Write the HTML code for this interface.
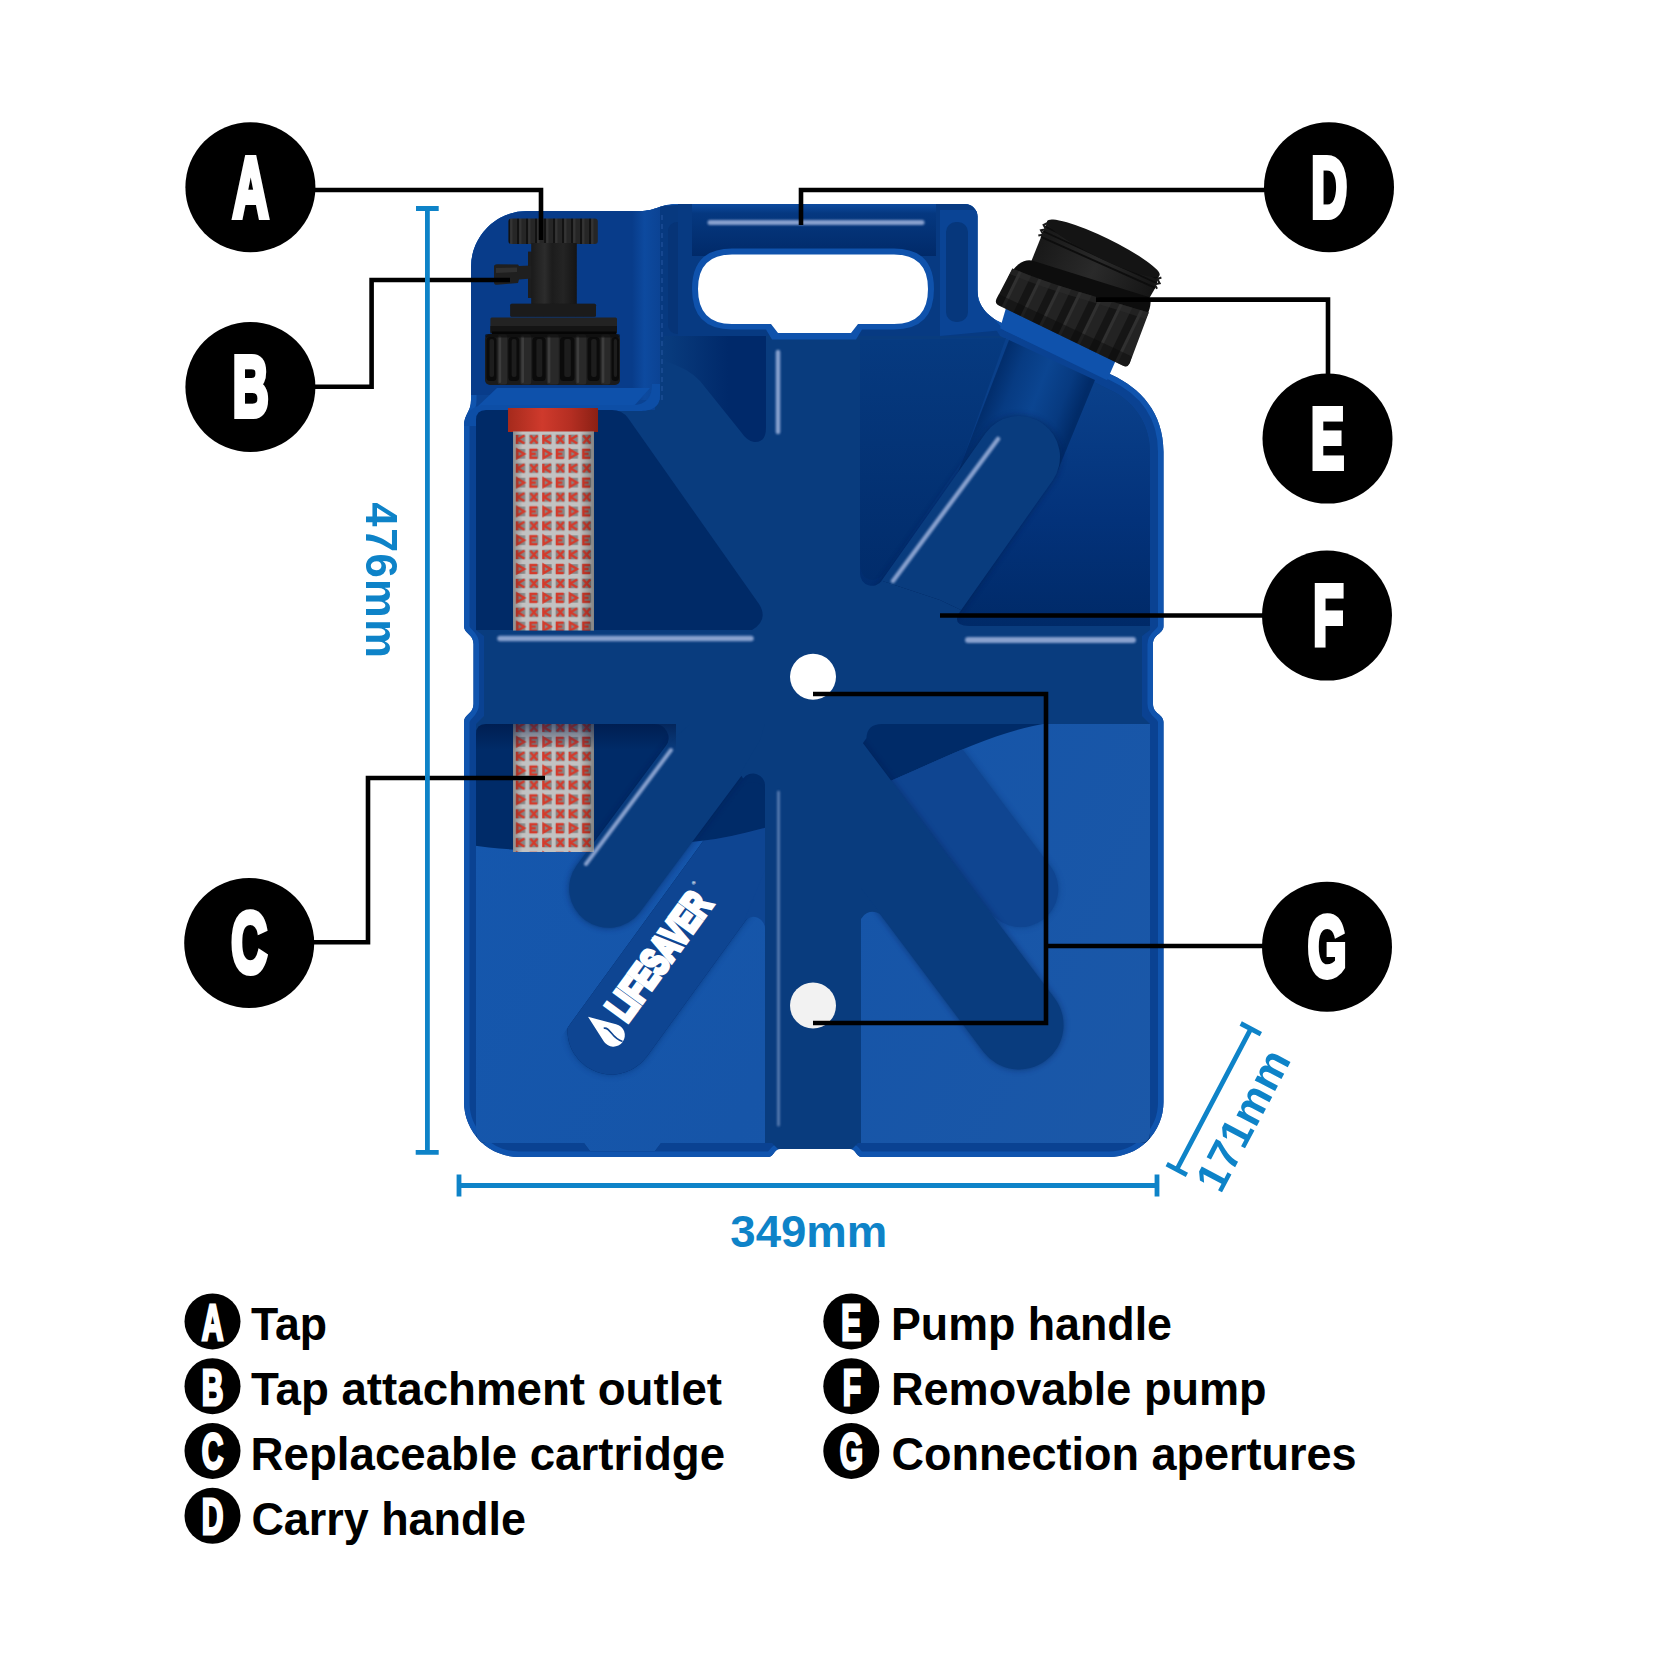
<!DOCTYPE html>
<html lang="en">
<head>
<meta charset="utf-8">
<title>LifeSaver Jerrycan – parts and dimensions</title>
<style>
  html, body { margin: 0; padding: 0; background: #ffffff; }
  body { width: 1667px; height: 1667px; overflow: hidden; font-family: "Liberation Sans", sans-serif; }
  svg { display: block; }
  .lbl { font-family: "Liberation Sans", sans-serif; font-weight: 700; fill: #ffffff; }
  .leg { font-family: "Liberation Sans", sans-serif; font-weight: 700; fill: #000000; font-size: 45.5px; }
  .dim { font-family: "Liberation Sans", sans-serif; font-weight: 700; fill: #0e83c8; font-size: 43.5px; }
  .lead { fill: none; stroke: #000000; stroke-width: 4.6; stroke-linejoin: miter; stroke-linecap: butt; }
  .dimline { fill: none; stroke: #0e83c8; stroke-width: 4.8; stroke-linecap: butt; }
</style>
</head>
<body>
<svg width="1667" height="1667" viewBox="0 0 1667 1667">
<defs>

<linearGradient id="gUM" gradientUnits="userSpaceOnUse" x1="664" y1="0" x2="728" y2="0">
  <stop offset="0" stop-color="#093c7e"/><stop offset="1" stop-color="#00296a"/>
</linearGradient>
<linearGradient id="gURL" gradientUnits="userSpaceOnUse" x1="0" y1="340" x2="0" y2="580">
  <stop offset="0" stop-color="#063a80"/><stop offset="1" stop-color="#012c6b"/>
</linearGradient>
<linearGradient id="gURR" gradientUnits="userSpaceOnUse" x1="0" y1="390" x2="0" y2="626">
  <stop offset="0" stop-color="#0a408a"/><stop offset="0.55" stop-color="#03327a"/><stop offset="1" stop-color="#002a68"/>
</linearGradient>
<linearGradient id="gTube" gradientUnits="userSpaceOnUse" x1="1009" y1="344" x2="1092" y2="376">
  <stop offset="0" stop-color="#022e6d"/><stop offset="0.2" stop-color="#073b82"/><stop offset="0.5" stop-color="#0b4591"/><stop offset="0.8" stop-color="#073a80"/><stop offset="1" stop-color="#012b68"/>
</linearGradient>
<linearGradient id="gWater" gradientUnits="userSpaceOnUse" x1="470" y1="800" x2="1160" y2="1150">
  <stop offset="0" stop-color="#1557ad"/><stop offset="0.5" stop-color="#1655a8"/><stop offset="1" stop-color="#1b58a8"/>
</linearGradient>
<linearGradient id="gHandleTop" gradientUnits="userSpaceOnUse" x1="0" y1="204" x2="0" y2="256">
  <stop offset="0" stop-color="#0c4a9f"/><stop offset="0.18" stop-color="#053880"/><stop offset="1" stop-color="#012a69"/>
</linearGradient>
<filter id="blur3" x="-20%" y="-20%" width="140%" height="140%"><feGaussianBlur stdDeviation="3"/></filter>
<filter id="blur2" x="-20%" y="-20%" width="140%" height="140%"><feGaussianBlur stdDeviation="1.6"/></filter>
<filter id="blur1" x="-20%" y="-20%" width="140%" height="140%"><feGaussianBlur stdDeviation="0.8"/></filter>
<clipPath id="clipBody"><use href="#bodyPath"/></clipPath>
<path id="bodyPath" d="M471 267 A56 56 0 0 1 527 211 L640 211 C656 211 660 204 678 204 L965 204 A12.5 12.5 0 0 1 977.5 216.5 L977.5 290 C977.5 308 990 318 1004 324 L1112 375 C1140 388 1163.5 412 1163.5 452 L1163.5 626 C1163.5 634 1153 634 1153 644 L1153 704 C1153 714 1163.5 714 1163.5 722 L1163.5 1102 A55 55 0 0 1 1108.5 1157 L862 1157 C856 1157 856 1149 850 1149 L780 1149 C774 1149 774 1157 768 1157 L519 1157 A55 55 0 0 1 464 1102 L464 722 C464 714 473.5 714 473.5 704 L473.5 644 C473.5 634 464 634 464 626 L464 426 C464 414 471 412 471 400 Z"/>
<path id="waterPath" d="M470 845 C520 853 600 853 700 841 C760 834 830 808 895 779 C950 755 1000 730 1050 723 L1160 723 L1160 1160 L470 1160 Z"/>
<clipPath id="clipWater"><use href="#waterPath"/></clipPath>
<path id="pocketLL" d="M476 734 Q476 724 486 724 L765 724 L765 1143 L661 1143 L655 1151 L590 1151 L584 1143 L486 1143 Q476 1143 476 1133 Z"/>
<clipPath id="clipLL"><use href="#pocketLL"/></clipPath>
<path id="pocketLR" d="M861 724 L1150 724 L1150 1133 Q1150 1143 1140 1143 L861 1143 Z"/>
<clipPath id="clipLR"><use href="#pocketLR"/></clipPath>
<path id="pocketUR" d="M860 340 L1004 338 L1110 390 C1132 400 1150 422 1150 452 L1150 626 L969 626 Q950 626 961 610 L940 600 L881.8 580.7 A12 12 0 0 1 860 573.8 Z"/>
<clipPath id="clipUR"><use href="#pocketUR"/></clipPath>
<clipPath id="clipLeft765"><path d="M765 1200 L765 796 Q765 782 753 782 Q746 782 741 789 L441 1202 Z"/></clipPath>

<pattern id="mesh" patternUnits="userSpaceOnUse" x="513.8" y="432" width="26.4" height="28.8">
  <rect width="26.4" height="28.8" fill="#c2c2c2"/>
  <g fill="#878787">
    <rect x="2.2" y="2.6" width="9.2" height="9.6"/><rect x="15.4" y="2.6" width="9.2" height="9.6"/>
    <rect x="2.2" y="17" width="9.2" height="9.6"/><rect x="15.4" y="17" width="9.2" height="9.6"/>
  </g>
  <g stroke="#d43a2b" stroke-width="2.4" fill="none" stroke-linejoin="miter">
    <path d="M3.2 3 L3.2 11.8 M10.6 3.4 L4 7.4 L10.6 11.4"/>
    <path d="M16.6 3.4 L23.6 11.4 M23.6 3.4 L16.6 11.4"/>
    <path d="M3.4 17.6 L10.4 21.8 L3.4 26 Z"/>
    <path d="M23.4 17.8 L16.8 17.8 L16.8 25.8 L23.4 25.8 M17 21.8 L22 21.8"/>
  </g>
</pattern>
<linearGradient id="gMeshShade" gradientUnits="userSpaceOnUse" x1="513" y1="0" x2="594" y2="0">
  <stop offset="0" stop-color="#000" stop-opacity="0.28"/><stop offset="0.12" stop-color="#000" stop-opacity="0"/>
  <stop offset="0.82" stop-color="#000" stop-opacity="0"/><stop offset="1" stop-color="#000" stop-opacity="0.32"/>
</linearGradient>
<linearGradient id="gRed" gradientUnits="userSpaceOnUse" x1="508" y1="0" x2="598" y2="0">
  <stop offset="0" stop-color="#a52a1c"/><stop offset="0.38" stop-color="#cf3a2c"/><stop offset="0.7" stop-color="#b42e22"/><stop offset="1" stop-color="#8a2014"/>
</linearGradient>
<linearGradient id="gStem" gradientUnits="userSpaceOnUse" x1="531" y1="0" x2="577" y2="0">
  <stop offset="0" stop-color="#1a1a1a"/><stop offset="0.3" stop-color="#2c2c2c"/><stop offset="0.46" stop-color="#1c1c1c"/><stop offset="0.7" stop-color="#242424"/><stop offset="1" stop-color="#141414"/>
</linearGradient>
<linearGradient id="gFl" gradientUnits="userSpaceOnUse" x1="0" y1="0" x2="0" y2="1" gradientTransform="scale(1,1)">
  <stop offset="0" stop-color="#2a2a2a"/><stop offset="1" stop-color="#151515"/>
</linearGradient>
<pattern id="ribsKnob" patternUnits="userSpaceOnUse" x="508" y="0" width="9" height="10">
  <rect width="9" height="10" fill="#262626"/><rect x="0" width="2.2" height="10" fill="#121212"/><rect x="2.2" width="2.2" height="10" fill="#343434"/>
</pattern>
<pattern id="ribsNut" patternUnits="userSpaceOnUse" x="484" y="0" width="26.4" height="10">
  <rect width="26.4" height="10" fill="#232323"/><rect x="0" width="12.5" height="10" fill="#0c0c0c"/><rect x="3" width="5" height="10" fill="#191919"/><rect x="13.5" width="4" height="10" fill="#333333"/>
</pattern>
<pattern id="ribsCap" patternUnits="userSpaceOnUse" x="0" y="0" width="21" height="10">
  <rect width="21" height="10" fill="#232323"/><rect x="0" width="8" height="10" fill="#151515"/><rect x="8" width="3" height="10" fill="#303030"/>
</pattern>
<linearGradient id="gNeck" x1="0" y1="0" x2="1" y2="0">
  <stop offset="0" stop-color="#181818"/><stop offset="0.5" stop-color="#2a2a2a"/><stop offset="1" stop-color="#151515"/>
</linearGradient>
<linearGradient id="gTopShade" gradientUnits="userSpaceOnUse" x1="0" y1="724" x2="0" y2="750">
  <stop offset="0" stop-color="#00143f" stop-opacity="0.55"/><stop offset="1" stop-color="#00143f" stop-opacity="0"/>
</linearGradient>
<linearGradient id="gWall" gradientUnits="userSpaceOnUse" x1="632" y1="0" x2="660" y2="0">
  <stop offset="0" stop-color="#083c8a"/><stop offset="0.45" stop-color="#0d4a9f"/><stop offset="1" stop-color="#0b4394"/>
</linearGradient>
<!--DEFS-->
</defs>

<!-- legend (painted first; also primes the font for the rotated labels below) -->
<g fill="#000000">
  <circle cx="212.5" cy="1321.4" r="28"/><circle cx="212.5" cy="1386.2" r="28"/><circle cx="212.5" cy="1451" r="28"/><circle cx="212.5" cy="1515.8" r="28"/>
  <circle cx="851.3" cy="1321.4" r="28"/><circle cx="851.3" cy="1386.2" r="28"/><circle cx="851.3" cy="1451" r="28"/>
</g>
<g class="lbl" font-size="50" text-anchor="middle" stroke="#ffffff" stroke-width="3" stroke-linejoin="miter">
  <text transform="translate(212.5,1339.7) scale(0.6,1)">A</text>
  <text transform="translate(212.5,1404.5) scale(0.6,1)">B</text>
  <text transform="translate(212.5,1469.3) scale(0.6,1)">C</text>
  <text transform="translate(212.5,1534.1) scale(0.6,1)">D</text>
  <text transform="translate(851.3,1339.7) scale(0.6,1)">E</text>
  <text transform="translate(851.8,1404.5) scale(0.6,1)">F</text>
  <text transform="translate(851.3,1469.3) scale(0.6,1)">G</text>
</g>
<g class="leg">
  <text x="251" y="1340.3" textLength="76" lengthAdjust="spacingAndGlyphs">Tap</text>
  <text x="251" y="1405.1" textLength="471" lengthAdjust="spacingAndGlyphs">Tap attachment outlet</text>
  <text x="250.6" y="1469.9" textLength="474.5" lengthAdjust="spacingAndGlyphs">Replaceable cartridge</text>
  <text x="251.4" y="1534.7" textLength="274.5" lengthAdjust="spacingAndGlyphs">Carry handle</text>
  <text x="891" y="1340.3" textLength="281" lengthAdjust="spacingAndGlyphs">Pump handle</text>
  <text x="891" y="1405.1" textLength="375.5" lengthAdjust="spacingAndGlyphs">Removable pump</text>
  <text x="891.5" y="1469.9" textLength="465" lengthAdjust="spacingAndGlyphs">Connection apertures</text>
</g>




<!-- outer shell -->
<use href="#bodyPath" fill="#0a4292"/>
<g clip-path="url(#clipBody)">
  <use href="#bodyPath" fill="none" stroke="#1054ae" stroke-width="11"/>
  <!-- main face -->
  <path d="M476 410 L655 410 L655 336 L1000 336 L1110 390 C1132 400 1150 422 1150 452 L1150 630 L1142 636 L1142 716 L1150 724 L1150 1143 L858 1143 L852 1149 L778 1149 L772 1143 L476 1143 L476 724 L484 716 L484 636 L476 630 Z" fill="#093c7e"/>
  <!-- tap recess -->
  <path d="M471 267 A56 56 0 0 1 527 211 L640 211 L640 395 L471 395 Z" fill="#083c8a"/>
  <path d="M632 211 L660 207 L660 400 L632 400 Z" fill="url(#gWall)"/>
  <path d="M660 206 L692 204 L692 340 L660 340 Z" fill="#07397f"/>
  <rect x="668" y="222" width="20" height="112" rx="9" fill="#063477"/>
  <path d="M662 215 L662 400" stroke="#3f6fc0" stroke-width="1" stroke-dasharray="5 4" opacity="0.55" fill="none"/>
  <!-- ledge under tap nut -->
  <path d="M497 388 L650 388 L634 406 L478 406 Z" fill="#0e51ab"/>
  <path d="M464 426 C464 412 474 405 486 405 L632 405 C646 405 652 398 652 384 L660 384 L660 396 C660 408 650 411 640 411 L486 411 C478 411 476 418 476 426 Z" fill="#0d4ea6"/>
  <!-- handle section -->
  <path d="M678 204 L965 204 A12.5 12.5 0 0 1 977.5 216.5 L977.5 300 L1000 336 L678 336 Z" fill="#073a82"/>
  <rect x="692" y="204" width="244" height="52" fill="url(#gHandleTop)"/>
  <path d="M940 210 L977.5 210 L977.5 300 L1004 330 L940 336 Z" fill="#0a4495"/>
  <rect x="946" y="222" width="22" height="100" rx="10" fill="#06377c"/>
  <!-- handle hole rim + hole -->
  <path d="M732 248.5 L894 248.5 Q934 248.5 934 289 Q934 329.5 894 329.5 L862 329.5 L856 339.5 L772 339.5 L766 329.5 L732 329.5 Q692 329.5 692 289 Q692 248.5 732 248.5 Z" fill="#0f52ac"/>
  <path d="M732 254.5 L894 254.5 Q928 254.5 928 289 Q928 324 894 324 L858 324 L851 333 L778 333 L771 324 L732 324 Q698 324 698 289 Q698 254.5 732 254.5 Z" fill="#ffffff"/>
  <!-- pockets upper -->
  <path d="M476 420 Q476 410 486 410 L612 410 Q622 410 628 418 L759 604 Q769 620 752 630 L476 630 Z" fill="#002a67"/>
  <path d="M664 336 L766 336 L766 428 Q766 443 754 442 Q747 441 741 432 L700 381 Q688 368 664 361 Z" fill="url(#gUM)"/>
  <use href="#pocketUR" fill="url(#gURR)"/>
  <path d="M860 340 L1006 338 L962 462 L886 571 Q876 584 866 578 Q860 574 860 562 Z" fill="url(#gURL)"/>
  <!-- pump tube -->
  <path d="M1009 340 L1095 380 L1058 470 L955 480 Z" fill="url(#gTube)"/>
  <!-- arm UR -->
  <g clip-path="url(#clipUR)">
    <rect x="-41" y="-41" width="340" height="82" rx="41" transform="translate(1019,457) rotate(125.2)" fill="#001b4e" opacity="0.6" filter="url(#blur3)"/>
    <rect x="-41" y="-41" width="340" height="82" rx="41" transform="translate(1019,457) rotate(125.2)" fill="#093c7e"/>
  </g>
  <!-- pockets lower -->
  <use href="#pocketLL" fill="#002b68"/>
  <use href="#pocketLR" fill="#002b68"/>
  <g clip-path="url(#clipWater)">
    <use href="#pocketLL" fill="url(#gWater)"/>
    <use href="#pocketLR" fill="url(#gWater)"/>
  </g>
</g>
<g clip-path="url(#clipBody)">
  <!-- LIFESAVER groove -->
  <g clip-path="url(#clipLeft765)">
    <rect x="-43.9" y="-43.9" width="420" height="87.8" rx="43.9" transform="translate(611.4,1030.6) rotate(-54)" fill="#002b68"/>
    <g clip-path="url(#clipWater)">
      <rect x="-43.9" y="-43.9" width="420" height="87.8" rx="43.9" transform="translate(611.4,1030.6) rotate(-54)" fill="#0a2f6e" opacity="0.6" filter="url(#blur3)"/>
      <rect x="-43.9" y="-43.9" width="420" height="87.8" rx="43.9" transform="translate(611.4,1030.6) rotate(-54)" fill="#0e4592"/>
    </g>
  </g>
  <!-- arm LL1 -->
  <g clip-path="url(#clipLL)">
    <rect x="-39.3" y="-39.3" width="330" height="78.6" rx="39.3" transform="translate(608.5,888.5) rotate(-53.3)" fill="#001b4e" opacity="0.6" filter="url(#blur3)"/>
    <rect x="-39.3" y="-39.3" width="330" height="78.6" rx="39.3" transform="translate(608.5,888.5) rotate(-53.3)" fill="#093c7e"/>
    <!-- hub corner above the groove apex, and rounded pocket corner -->
    <path d="M765 724 L765 786 A12 12 0 0 0 743.2 778.6 L740 774 L760 740 Z" fill="#093c7e"/>
    <path d="M654.5 724 L690 724 L665.7 746.4 A14 14 0 0 0 654.5 724 Z" fill="#093c7e"/>
  </g>
  <!-- fillet where groove meets vertical arm -->
  <path d="M765 870 L765 930 A12 12 0 0 0 744 921 Z" fill="#0e4592"/>
  <!-- LIFESAVER logo -->
  <g transform="translate(627.5,1026.1) rotate(-54)" fill="#ffffff">
    <path d="M-15.7 -37.4 L-26.2 -10.4 A11.4 11.4 0 1 0 -5.2 -10.4 Z"/>
    <path d="M-15.7 -18 C-10.5 -13.5 -19.5 -6 -15.3 5" fill="none" stroke="#0e4592" stroke-width="1.6"/>
    <text transform="translate(1.5,-2.25) scale(0.668,1)" font-family="'Liberation Sans', sans-serif" font-weight="700" font-size="39.8" stroke="#ffffff" stroke-width="4.5" stroke-linejoin="miter">LIFESAVER</text>
    <text x="153" y="-29" font-family="'Liberation Sans', sans-serif" font-weight="700" font-size="5">®</text>
  </g>
  <!-- arm LR short (under water only) -->
  <g clip-path="url(#clipLR)"><g clip-path="url(#clipWater)">
    <rect x="-37.8" y="-37.8" width="300" height="75.6" rx="37.8" transform="translate(1020.4,889.3) rotate(-126.9)" fill="#0a2f6e" opacity="0.5" filter="url(#blur3)"/>
    <rect x="-37.8" y="-37.8" width="300" height="75.6" rx="37.8" transform="translate(1020.4,889.3) rotate(-126.9)" fill="#0f4591"/>
  </g></g>
  <!-- arm LR main -->
  <g clip-path="url(#clipLR)">
    <rect x="-44.5" y="-44.5" width="480" height="89" rx="44.5" transform="translate(1019,1025) rotate(-126.9)" fill="#001b4e" opacity="0.55" filter="url(#blur3)"/>
    <rect x="-44.5" y="-44.5" width="480" height="89" rx="44.5" transform="translate(1019,1025) rotate(-126.9)" fill="#093c7e"/>
    <path d="M861 724 L882 724 Q867 724 866.5 738 L861 746 Z" fill="#093c7e"/>
    <!-- rounded apex of lower sub-pocket -->
    <path d="M861 860 L861 930 A12 12 0 0 1 884 919 L861 888 Z" fill="#093c7e"/>
  </g>
  <!-- cartridge -->
  <rect x="508" y="408" width="90" height="24" fill="url(#gRed)"/>
  <rect x="513" y="431.5" width="81" height="199" fill="url(#mesh)"/>
  <rect x="513" y="431.5" width="81" height="199" fill="url(#gMeshShade)"/>
  <g clip-path="url(#clipLL)">
    <path d="M513 724 L594 724 L594 852 L513 852 Z" fill="url(#mesh)"/>
    <path d="M513 724 L594 724 L594 852 L513 852 Z" fill="url(#gMeshShade)"/>
    <rect x="476" y="724" width="200" height="26" fill="url(#gTopShade)"/>
  </g>
  <!-- highlights -->
  <g stroke="#aebfe6" stroke-linecap="round" fill="none" opacity="0.78" filter="url(#blur1)">
    <path d="M500 638.5 L751 638.5" stroke-width="5.5"/>
    <path d="M968 640 L1133 640" stroke-width="6"/>
    <path d="M710 222.5 L922 222.5" stroke-width="5"/>
    <path d="M778 352 L778 432" stroke-width="4.5"/>
    <path d="M778.5 792 L778.5 1125" stroke-width="3" opacity="0.6"/>
    <path d="M893 581 L998 439" stroke-width="4.5"/>
    <path d="M586 864 L671 750" stroke-width="4"/>
  </g>
  <!-- apertures -->
  <circle cx="813" cy="676.7" r="23" fill="#ffffff"/>
  <circle cx="813" cy="1005.6" r="23" fill="#f2f2f2"/>
</g>
<!--BODY3-->


<!-- tap assembly -->
<g>
  <rect x="508.4" y="218.6" width="89.4" height="25.4" rx="3" fill="url(#ribsKnob)"/>
  <rect x="528" y="251.6" width="4" height="46.4" fill="#1d1d1d"/>
  <rect x="531.2" y="243" width="45.6" height="61.5" fill="url(#gStem)"/>
  <path d="M494 266.5 Q494 264.5 497 264.3 L518 264.6 L519 266 L531.5 265.5 L531.5 278.5 L519 279.5 L518 283 L497 284.8 Q494 284.8 494 282.5 Z" fill="#1f1f1f"/>
  <path d="M496 268 L517 267.5 L517 272 L496 273 Z" fill="#303030"/>
  <rect x="510.2" y="303.8" width="85.8" height="13" rx="1.5" fill="url(#gFl)"/>
  <rect x="510.2" y="303.8" width="85.8" height="13" rx="1.5" fill="#222" opacity="0.5"/>
  <rect x="490.4" y="317.6" width="126.6" height="15" rx="1.5" fill="#232323"/>
  <rect x="490.4" y="326" width="126.6" height="7.5" fill="#141414"/>
  <rect x="492" y="331.5" width="124" height="4" fill="#050505"/>
  <rect x="485" y="334" width="135" height="51" rx="5" fill="#1b1b1b"/>
  <rect x="486.5" y="337" width="9.9" height="44" rx="3.5" fill="#0b0b0b"/>
  <rect x="489.5" y="339" width="4.5" height="38" rx="2" fill="#1d1d1d"/>
  <rect x="508.4" y="337" width="10.8" height="44" rx="3.5" fill="#0b0b0b"/>
  <rect x="511.6" y="339" width="4.9" height="38" rx="2" fill="#1d1d1d"/>
  <rect x="532.4" y="337" width="13.2" height="44" rx="3.5" fill="#0b0b0b"/>
  <rect x="536.4" y="339" width="5.9" height="38" rx="2" fill="#1d1d1d"/>
  <rect x="560" y="337" width="14.4" height="44" rx="3.5" fill="#0b0b0b"/>
  <rect x="564.3" y="339" width="6.5" height="38" rx="2" fill="#1d1d1d"/>
  <rect x="587.6" y="337" width="12.0" height="44" rx="3.5" fill="#0b0b0b"/>
  <rect x="591.2" y="339" width="5.4" height="38" rx="2" fill="#1d1d1d"/>
  <rect x="611.6" y="337" width="7.4" height="44" rx="3.5" fill="#0b0b0b"/>
  <rect x="613.8" y="339" width="3.3" height="38" rx="2" fill="#1d1d1d"/>
  <rect x="497.6" y="334.5" width="9.6" height="50" rx="2.5" fill="#292929"/>
  <rect x="498.6" y="336" width="2.6" height="47" rx="1.2" fill="#3d3d3d"/>
  <rect x="520.4" y="334.5" width="10.8" height="50" rx="2.5" fill="#292929"/>
  <rect x="521.4" y="336" width="2.6" height="47" rx="1.2" fill="#3d3d3d"/>
  <rect x="546.8" y="334.5" width="12.0" height="50" rx="2.5" fill="#292929"/>
  <rect x="547.8" y="336" width="2.6" height="47" rx="1.2" fill="#3d3d3d"/>
  <rect x="575.6" y="334.5" width="10.8" height="50" rx="2.5" fill="#292929"/>
  <rect x="576.6" y="336" width="2.6" height="47" rx="1.2" fill="#3d3d3d"/>
  <rect x="600.8" y="334.5" width="9.6" height="50" rx="2.5" fill="#292929"/>
  <rect x="601.8" y="336" width="2.6" height="47" rx="1.2" fill="#3d3d3d"/>
  <rect x="485" y="334" width="135" height="3.5" rx="1.5" fill="#0a0a0a" opacity="0.6"/>
</g>
<!-- pump cap -->
<g transform="translate(994.4,303.2) rotate(25.9)">
  <!-- blue collar below cap -->
  <path d="M12 -4 L134 -4 L135 20 L16 20 Z" fill="#0f52ac"/>
  
  <!-- threaded neck -->
  <path d="M15 -52 L137 -70 L138 -84 L136 -97 L12 -96 L13 -80 Z" fill="url(#gNeck)"/>
  <path d="M13 -80 L138 -84 M12.5 -86 L137.5 -89 M12 -91 L137 -93.5" stroke="#0d0d0d" stroke-width="1.8" fill="none"/>
  <path d="M10 -80 L14 -83 L10 -86 L14 -89 L10 -92 L13 -96 M140 -84 L136 -87 L140 -90 L136 -93 L139 -96" stroke="#1a1a1a" stroke-width="2" fill="none"/>
  <ellipse cx="74" cy="-97" rx="62.5" ry="10.5" fill="#141414"/>
  <!-- shadow band -->
  <path d="M1 -30 Q3 -52 16 -55 L137 -73 Q143 -69 143 -50 L70 -30 Z" fill="#0d0d0d"/>
  <!-- ribbed ring -->
  <path d="M0 -5 Q0 0 5 0 L143 0 Q148 0 148 -5 L143 -59 Q100 -52 70 -47 Q35 -41 1 -39 Z" fill="url(#ribsCap)"/>
  <path d="M0 -5 Q0 0 5 0 L143 0 Q148 0 148 -5 L147 -12 L0 -10 Z" fill="#0c0c0c" opacity="0.5"/>
  <path d="M143 -59 Q100 -52 70 -47 Q35 -41 1 -39 L1 -33 Q35 -35 70 -41 Q100 -46 143 -52 Z" fill="#2e2e2e" opacity="0.5"/>
</g>
<!--PARTS2-->


<!-- leader lines -->
<g class="lead">
  <path d="M314 190 L541 190 L541 240"/>
  <path d="M314 386.7 L371.6 386.7 L371.6 280 L510 280"/>
  <path d="M313 942.3 L368 942.3 L368 778 L545 778"/>
  <path d="M1266 190 L801 190 L801 225"/>
  <path d="M1096 299.6 L1328 299.6 L1328 376"/>
  <path d="M940 615.5 L1264 615.5"/>
  <path d="M813 694 L1046 694 L1046 1023 L813 1023"/>
  <path d="M1046 946 L1264 946"/>
</g>
<!-- label discs -->
<g fill="#000000">
  <circle cx="250.4" cy="187.2" r="65"/>
  <circle cx="250.4" cy="387" r="65"/>
  <circle cx="249.2" cy="943" r="65"/>
  <circle cx="1329" cy="187.2" r="65"/>
  <circle cx="1327.5" cy="438.6" r="65"/>
  <circle cx="1327" cy="615.6" r="65"/>
  <circle cx="1327" cy="946.7" r="65"/>
</g>
<g class="lbl" font-size="85" text-anchor="middle" stroke="#ffffff" stroke-width="6" stroke-linejoin="miter">
  <text transform="translate(250.6,216.6) scale(0.585,1)">A</text>
  <text transform="translate(250.6,416.4) scale(0.585,1)">B</text>
  <text transform="translate(249.2,972.4) scale(0.585,1)">C</text>
  <text transform="translate(1329.2,216.6) scale(0.585,1)">D</text>
  <text transform="translate(1327.5,468.0) scale(0.585,1)">E</text>
  <text transform="translate(1328.5,645.0) scale(0.585,1)">F</text>
  <text transform="translate(1327,976.1) scale(0.585,1)">G</text>
</g>
<!-- dimension lines -->
<g class="dimline">
  <path d="M427.4 208.5 L427.4 1152.4 M416 208.5 L438.7 208.5 M415.7 1152.4 L438.7 1152.4"/>
  <path d="M459 1185.5 L1157 1185.5 M459 1174.5 L459 1196.5 M1157 1174.5 L1157 1196.5"/>
  <path d="M1176.8 1169.5 L1250.8 1028.8 M1166.7 1164.2 L1186.9 1174.8 M1240.7 1023.5 L1260.9 1034.1"/>
</g>
<text class="dim" transform="translate(365.8,502.3) rotate(90)" letter-spacing="1.4">476mm</text>
<text class="dim" transform="translate(1220.7,1194.8) rotate(-62.3)" letter-spacing="0.7">171mm</text>
<text class="dim" x="730.3" y="1247.3" textLength="157" lengthAdjust="spacingAndGlyphs">349mm</text>



</svg>

</body>
</html>
